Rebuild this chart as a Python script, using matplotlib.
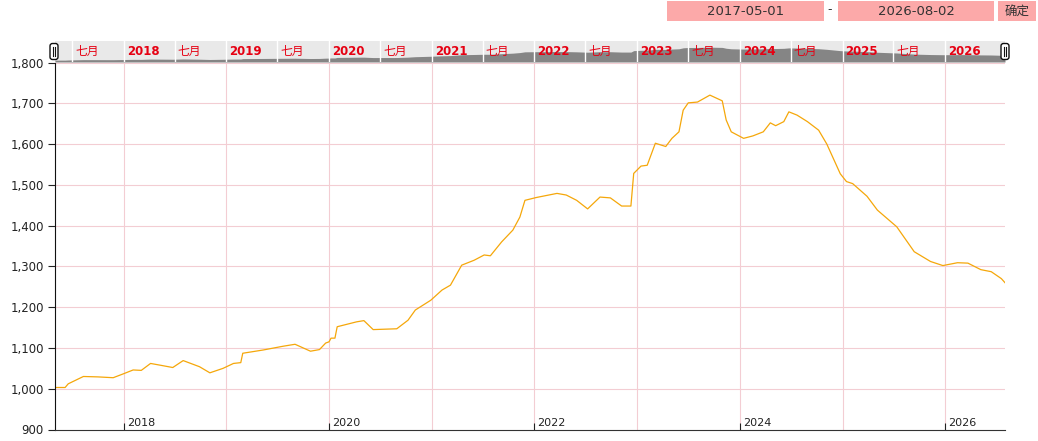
import pandas as pd
import numpy as np
import matplotlib.pyplot as plt
from matplotlib.patches import Rectangle, FancyBboxPatch
import matplotlib.transforms as mtransforms

plt.rcParams['font.family'] = ['DejaVu Sans', 'Noto Sans CJK SC']

# series
dates = ['2017-05-01', '2017-06-06', '2017-06-17', '2017-08-10', '2017-10-01', '2017-11-24',
         '2018-01-01', '2018-02-03', '2018-03-04', '2018-04-06', '2018-05-08', '2018-06-24',
         '2018-07-31', '2018-09-27', '2018-11-03', '2018-12-20', '2019-01-26', '2019-02-21',
         '2019-02-28', '2019-05-12', '2019-07-20', '2019-09-02', '2019-10-27', '2019-11-28',
         '2019-12-20', '2020-01-01', '2020-01-08', '2020-01-22', '2020-01-30', '2020-04-08',
         '2020-05-04', '2020-06-06', '2020-08-29', '2020-10-08', '2020-11-03', '2020-12-28',
         '2021-02-06', '2021-03-08', '2021-04-17', '2021-05-31', '2021-07-06', '2021-07-28',
         '2021-09-06', '2021-10-16', '2021-11-10', '2021-11-28', '2022-01-08', '2022-03-22',
         '2022-04-24', '2022-05-31', '2022-07-09', '2022-08-22', '2022-09-28', '2022-11-07',
         '2022-12-10', '2022-12-20', '2023-01-15', '2023-02-06', '2023-03-07', '2023-04-13',
         '2023-05-05', '2023-05-30', '2023-06-14', '2023-07-02', '2023-08-04', '2023-09-17',
         '2023-10-31', '2023-11-14', '2023-12-02', '2024-01-15', '2024-02-17', '2024-03-25',
         '2024-04-19', '2024-05-08', '2024-06-06', '2024-06-24', '2024-07-23', '2024-08-29',
         '2024-10-08', '2024-11-06', '2024-12-24', '2025-01-15', '2025-02-06', '2025-03-29',
         '2025-05-05', '2025-07-13', '2025-09-13', '2025-11-10', '2025-12-24', '2026-02-14',
         '2026-03-23', '2026-05-08', '2026-06-14', '2026-07-20', '2026-08-02']
values = [1003, 1003, 1012, 1030, 1029, 1027,
          1037, 1046, 1045, 1062, 1058, 1052,
          1069, 1054, 1039, 1050, 1062, 1064,
          1087, 1095, 1104, 1109, 1092, 1096,
          1112, 1115, 1124, 1124, 1152, 1164,
          1167, 1145, 1147, 1168, 1193, 1217,
          1242, 1254, 1303, 1315, 1328, 1326,
          1360, 1389, 1421, 1462, 1469, 1479,
          1475, 1462, 1441, 1470, 1468, 1448,
          1448, 1528, 1546, 1548, 1602, 1594,
          1614, 1630, 1683, 1701, 1703, 1720,
          1706, 1659, 1630, 1614, 1620, 1630,
          1652, 1645, 1655, 1679, 1671, 1655,
          1634, 1600, 1527, 1508, 1503, 1472,
          1438, 1397, 1336, 1312, 1302, 1309,
          1308, 1292, 1287, 1270, 1260]

start_date = '2017-05-01'
end_date = '2026-08-02'
y_ticks = [900, 1000, 1100, 1200, 1300, 1400, 1500, 1600, 1700, 1800]
x_tick_years = [2018, 2020, 2022, 2024, 2026]
nav_years = list(range(2018, 2027))
nav_july = list(range(2017, 2026))

x = pd.to_datetime(dates)
x0, x1 = pd.Timestamp(start_date), pd.Timestamp(end_date)

W, H = 1038, 441
fig = plt.figure(figsize=(W / 100, H / 100), dpi=100)

def px_axes(left, top, right, bottom):
    return fig.add_axes([left / W, 1 - bottom / H, (right - left) / W, (bottom - top) / H])

line_col = '#f5a70a'
grid_col = '#f3cdd3'
red = '#e60012'

# main chart
ax = px_axes(55, 62.5, 1005, 429.5)
ax.plot(x, values, color=line_col, lw=0.9)
ax.set_xlim(x0, x1)
ax.set_ylim(900, 1800)
ax.set_yticks(y_ticks)
ax.set_yticklabels([f'{v:,}' for v in y_ticks], fontsize=8.5, color='#222')
for yr in nav_years:
    ax.axvline(pd.Timestamp(f'{yr}-01-01'), color=grid_col, lw=0.8, zorder=0)
for v in y_ticks[1:]:
    ax.axhline(v, color=grid_col, lw=0.8, zorder=0)
xt = [pd.Timestamp(f'{yr}-01-01') for yr in x_tick_years]
ax.set_xticks(xt)
ax.set_xticklabels([])
ax.tick_params(axis='x', direction='in', length=5, color='#222')
ax.tick_params(axis='y', direction='out', length=5, color='#222', pad=3)
tr = mtransforms.offset_copy(ax.get_xaxis_transform(), fig=fig, x=3, y=2, units='dots')
for t, yr in zip(xt, x_tick_years):
    ax.text(t, 0, str(yr), transform=tr, ha='left', va='bottom', fontsize=8, color='#222')
for s in ['top', 'right']:
    ax.spines[s].set_visible(False)
ax.spines['left'].set_color('#111')
ax.spines['bottom'].set_color('#333')

# navigator
nav = px_axes(55, 41, 1005, 62)
nav.set_facecolor('#e9e9e9')
nav.fill_between(x, 900, values, color='#858585', lw=0)
nav.set_xlim(x0, x1)
nav.set_ylim(900, 2060)
nav.set_xticks([])
nav.set_yticks([])
for s in nav.spines.values():
    s.set_visible(False)
ntr = mtransforms.offset_copy(nav.get_xaxis_transform(), fig=fig, x=3, y=0, units='dots')
for yr in nav_years:
    t = pd.Timestamp(f'{yr}-01-01')
    nav.axvline(t, color='white', lw=1)
    nav.text(t, 0.5, str(yr), transform=ntr, ha='left', va='center', fontsize=8.5,
             fontweight='bold', color=red)
for yr in nav_july:
    t = pd.Timestamp(f'{yr}-07-01')
    nav.axvline(t, color='white', lw=1)
    nav.text(t, 0.5, '七月', transform=ntr, ha='left', va='center', fontsize=8.5,
             color=red, family=['Noto Sans CJK SC', 'DejaVu Sans'])

# overlay for handles and the date range controls
ov = fig.add_axes([0, 0, 1, 1])
ov.set_xlim(0, W)
ov.set_ylim(H, 0)
ov.axis('off')
ov.patch.set_alpha(0)
for hx in [54, 1005]:
    ov.add_patch(FancyBboxPatch((hx - 4, 43.5), 8, 16, boxstyle='round,pad=0,rounding_size=2.5',
                                fc='white', ec='#111', lw=1))
    ov.plot([hx - 1.3, hx - 1.3], [47, 56], color='#111', lw=0.8)
    ov.plot([hx + 1.3, hx + 1.3], [47, 56], color='#111', lw=0.8)

box_col = '#fca9a9'
ov.add_patch(Rectangle((667, 1), 157, 20, fc=box_col, ec='none'))
ov.add_patch(Rectangle((838, 1), 156, 20, fc=box_col, ec='none'))
ov.add_patch(Rectangle((998, 1), 38, 20, fc=box_col, ec='none'))
ov.text(745.5, 11.5, start_date, ha='center', va='center', fontsize=9.5, color='#333')
ov.text(916, 11.5, end_date, ha='center', va='center', fontsize=9.5, color='#333')
ov.text(830, 10, '-', ha='center', va='center', fontsize=9, color='#333')
ov.text(1017, 11.5, '确定', ha='center', va='center', fontsize=9, color='#333',
        family=['Noto Sans CJK SC', 'DejaVu Sans'])

fig.savefig('out.png', dpi=100)
